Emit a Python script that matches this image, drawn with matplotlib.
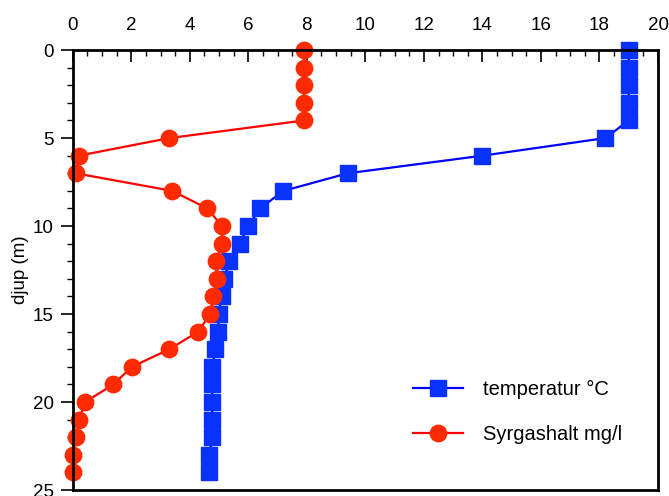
import matplotlib
matplotlib.use("Agg")
import matplotlib.pyplot as plt
from matplotlib.ticker import MultipleLocator

plt.rcParams['font.family'] = ['Liberation Sans', 'DejaVu Sans']

depth = list(range(0, 25))
temperatur = [19.0, 19.0, 19.0, 19.0, 19.0, 18.2, 14.0, 9.4, 7.2, 6.4, 6.0, 5.7,
              5.35, 5.17, 5.09, 4.99, 4.98, 4.87, 4.77, 4.77, 4.77, 4.77, 4.77,
              4.67, 4.67]
syrgas = [7.9, 7.9, 7.9, 7.9, 7.9, 3.3, 0.2, 0.1, 3.4, 4.6, 5.1, 5.1,
          4.9, 4.92, 4.81, 4.69, 4.29, 3.3, 2.02, 1.39, 0.42, 0.22, 0.11,
          0.0, 0.0]
labels = ['temperatur °C', 'Syrgashalt mg/l']
xticks = [0, 2, 4, 6, 8, 10, 12, 14, 16, 18, 20]
yticks = [0, 5, 10, 15, 20, 25]

fig = plt.figure(figsize=(6.69, 4.96), dpi=100)
ax = fig.add_axes([0.1087, 0.012, 0.9836 - 0.1087, 0.899 - 0.012])

ax.plot(temperatur, depth, color='#0000FF', lw=1.6, marker='s', ms=11.8,
        markerfacecolor='#0A32FF', markeredgecolor='#0A32FF', label=labels[0],
        clip_on=False)
ax.plot(syrgas, depth, color='#FF0000', lw=1.6, marker='o', ms=11.8,
        markerfacecolor='#FF2A00', markeredgecolor='#FF2A00', label=labels[1],
        clip_on=False)

ax.set_xlim(0, 20)
ax.set_ylim(25, 0)
ax.set_xticks(xticks)
ax.set_yticks(yticks)
ax.xaxis.set_minor_locator(MultipleLocator(0.5))
ax.yaxis.set_minor_locator(MultipleLocator(1))
ax.xaxis.tick_top()
ax.tick_params(axis='x', which='major', direction='in', length=8.4, width=1.2,
               labelsize=13.5, pad=11.5, top=True, bottom=False)
ax.tick_params(axis='x', which='minor', direction='in', length=4.3, width=1,
               top=True, bottom=False)
ax.tick_params(axis='y', which='major', direction='out', length=9, width=1.2,
               labelsize=13.5, pad=4.5)
ax.tick_params(axis='y', which='minor', direction='out', length=4, width=1)
for s in ax.spines.values():
    s.set_linewidth(2)
ax.set_ylabel('djup (m)', fontsize=13.5, labelpad=3)

ax.legend(loc='upper left', bbox_to_anchor=(0.568, 0.268), borderaxespad=0,
          frameon=False, fontsize=14.5, handlelength=2.45,
          labelspacing=1.3, handletextpad=1.0)

fig.savefig('out.png', dpi=100)
